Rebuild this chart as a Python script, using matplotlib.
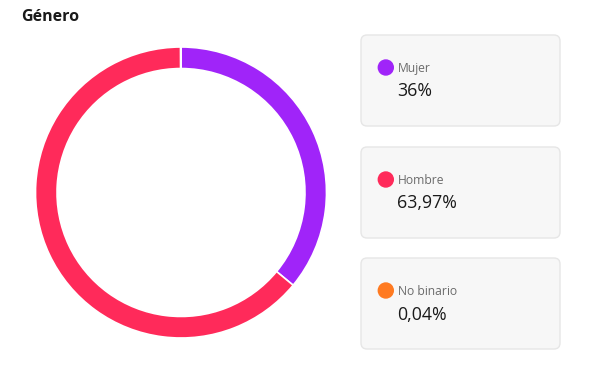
import matplotlib.pyplot as plt
from matplotlib.patches import FancyBboxPatch, Circle

# Datos
categorias = ["Mujer", "Hombre", "No binario"]
porcentajes = [36.0, 63.97, 0.04]
etiquetas = ["36%", "63,97%", "0,04%"]
colores = ["#A024F9", "#FF2A5A", "#FF7A21"]

plt.rcParams["font.family"] = ["Open Sans", "DejaVu Sans"]

fig = plt.figure(figsize=(5.91, 3.65), dpi=100)
W, H = 591, 365

# Capa de fondo en pixeles
bg = fig.add_axes([0, 0, 1, 1])
bg.set_xlim(0, W)
bg.set_ylim(H, 0)
bg.axis("off")

bg.text(21, 21, "Género", fontsize=11.5, fontweight="bold", color="#1a1a1a",
        ha="left", va="baseline")

# Donut
cx, cy, r = 181, 192.5, 145.5
ax = fig.add_axes([(cx - r) / W, (H - cy - r) / H, 2 * r / W, 2 * r / H])
ax.pie(porcentajes, colors=colores, startangle=90, counterclock=False,
       radius=1, wedgeprops=dict(width=0.148, edgecolor="white", linewidth=1.2))
ax.set_xlim(-1, 1)
ax.set_ylim(-1, 1)

# Tarjetas de leyenda
tops = [35, 147, 258]
for top, cat, lab, col in zip(tops, categorias, etiquetas, colores):
    box = FancyBboxPatch((361, top), 199, 91,
                         boxstyle="round,pad=0,rounding_size=6",
                         facecolor="#F7F7F7", edgecolor="#E6E6E6", linewidth=1)
    bg.add_patch(box)
    bg.add_patch(Circle((385.8, top + 32.5), 7.5, color=col))
    bg.text(397.5, top + 37, cat, fontsize=8.7, color="#6b6b6b",
            ha="left", va="baseline")
    bg.text(397.5, top + 61.5, lab, fontsize=12.8, color="#1a1a1a",
            ha="left", va="baseline")

fig.savefig("out.png", dpi=100)
